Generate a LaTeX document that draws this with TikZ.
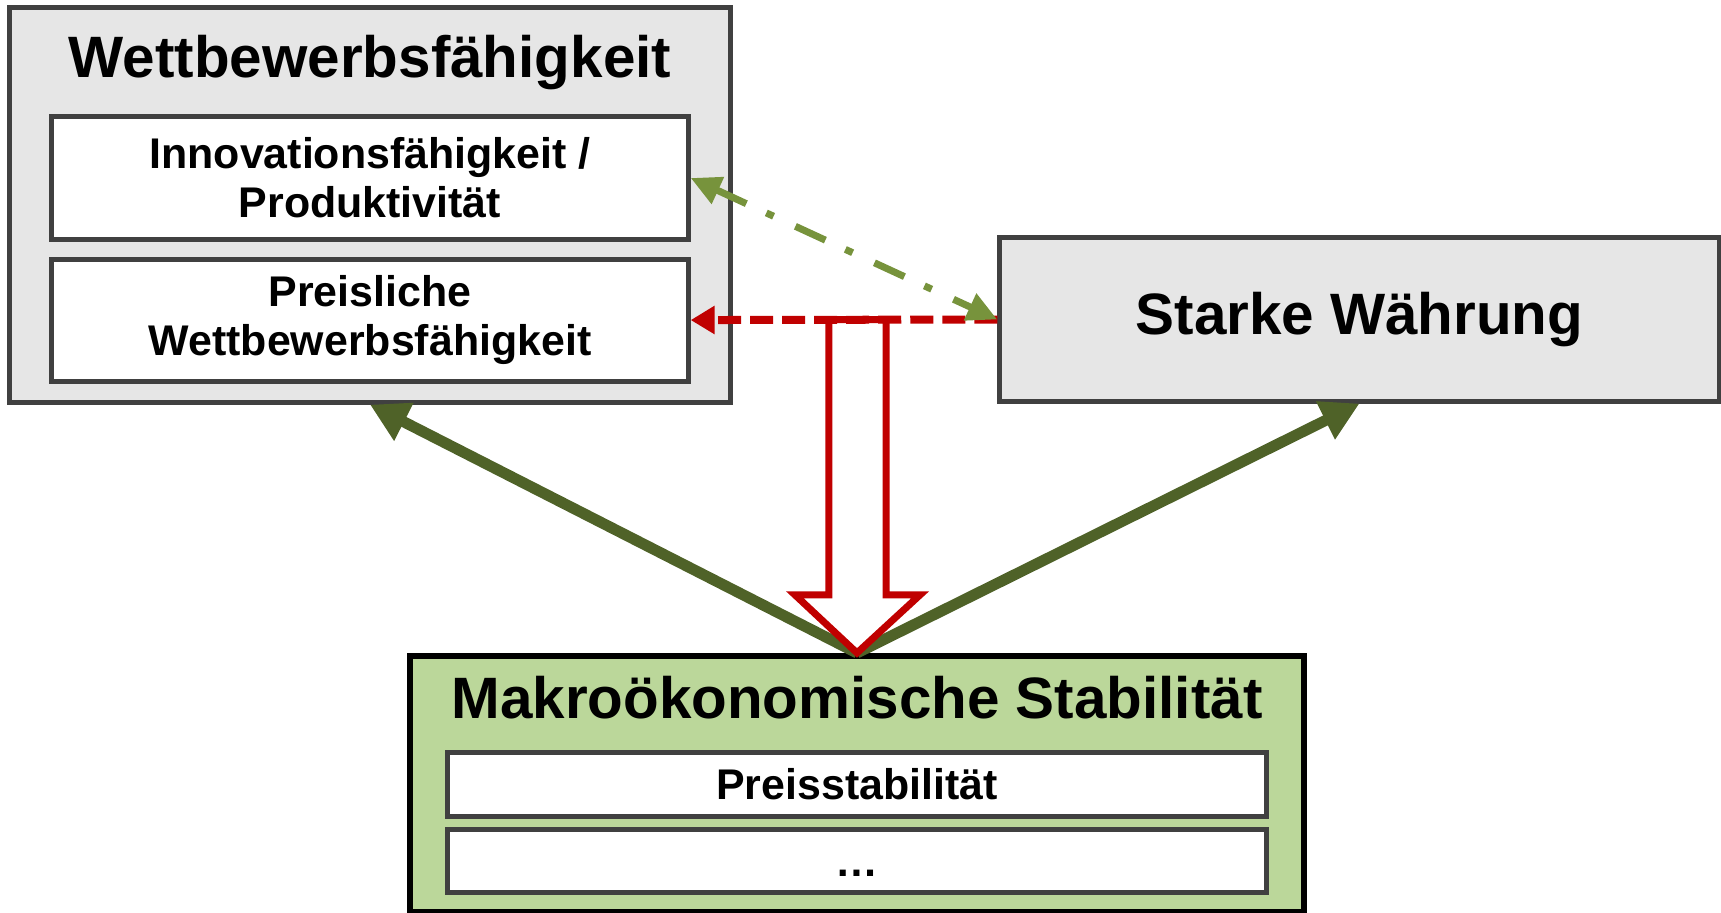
\documentclass[tikz,border=0pt]{standalone}
\usepackage{fontspec}
\setmainfont{Liberation Sans}
\usetikzlibrary{positioning, calc, arrows.meta}

\definecolor{boxgray}{HTML}{E6E6E6}
\definecolor{boxline}{HTML}{404040}
\definecolor{makrogreen}{RGB}{187,215,154}
\definecolor{darkgreen}{HTML}{4F6228}
\definecolor{olivegreen}{HTML}{77933C}
\definecolor{darkred}{HTML}{C00000}

\newcommand{\headfont}{\fontsize{16.6}{20}\selectfont\bfseries}
\newcommand{\itemfont}{\fontsize{12.2}{14}\selectfont\bfseries}

\begin{document}
\begin{tikzpicture}[
    x=0.01cm, y=-0.01cm,
    % Block styles
    group/.style={
      rectangle, draw=boxline, line width=0.05cm, fill=boxgray,
      inner sep=0pt
    },
    item/.style={
      rectangle, draw=boxline, line width=0.05cm, fill=white,
      minimum width=6.36cm, minimum height=1.22cm, inner sep=0pt,
      font=\itemfont, align=center
    },
    heading/.style={font=\headfont, anchor=base},
    % Connector styles
    support/.style={draw=darkgreen, line width=0.11cm,
      -{Triangle[length=0.38cm, width=0.4cm]}},
    hollow/.style={draw=darkred, fill=white, line width=0.07cm},
    price/.style={draw=darkred, line width=0.08cm,
      dash pattern=on 0.23cm off 0.09cm,
      -{Triangle[length=0.24cm, width=0.27cm]}},
    innovation/.style={draw=olivegreen, line width=0.07cm,
      dash pattern=on 0.33cm off 0.22cm on 0.08cm off 0.24cm,
      {Triangle[length=0.3cm, width=0.28cm]}-{Triangle[length=0.3cm, width=0.28cm]}},
  ]
  \useasboundingbox (0,0) rectangle (1721,912);

  % === Wettbewerbsfaehigkeit (top left) ===
  \node[group, minimum width=7.2cm, minimum height=3.94cm] (wett) at (370,205) {};
  \node[heading] at ([yshift=-0.72cm]wett.north) {Wettbewerbsfähigkeit};
  \node[item, below=1.09cm of wett.north] (innov) {Innovationsfähigkeit /\\Produktivität};
  \node[item, below=0.15cm of innov] (preis) {Preisliche\\Wettbewerbsfähigkeit};

  % === Starke Waehrung (right) ===
  \node[group, minimum width=7.19cm, minimum height=1.63cm, font=\headfont] (staerke) at (1359.5,319.5) {Starke Währung};

  % === Makrooekonomische Stabilitaet (bottom) ===
  \node[group, draw=black, fill=makrogreen, line width=0.06cm,
    minimum width=8.94cm, minimum height=2.56cm] (makro) at (857,784) {};
  \node[heading] at ([yshift=-0.66cm]makro.north) {Makroökonomische Stabilität};
  \node[item, minimum width=8.19cm, minimum height=0.64cm, below=0.97cm of makro.north] (pstab) {Preisstabilität};
  \node[item, minimum width=8.19cm, minimum height=0.63cm, below=0.08cm of pstab] (dots) {\strut\raisebox{-0.06cm}{\ldots}};

  % === Connectors ===
  \draw[support] (makro.north) -- (wett.south);
  \draw[support] (makro.north) -- (staerke.south);

  % Hollow arrow down to the stability block
  \coordinate (shaft) at (makro.north |- staerke.west);
  \draw[hollow] ([xshift=-0.28cm]shaft) -- ([xshift=0.29cm]shaft)
    -- ([xshift=0.29cm, yshift=0.58cm]makro.north)
    -- ([xshift=0.63cm, yshift=0.58cm]makro.north)
    -- (makro.north)
    -- ([xshift=-0.62cm, yshift=0.58cm]makro.north)
    -- ([xshift=-0.28cm, yshift=0.58cm]makro.north) -- cycle;

  \draw[price] (staerke.west) -- (preis.east);
  \draw[innovation] (innov.east) -- (staerke.west);

\end{tikzpicture}
\end{document}
